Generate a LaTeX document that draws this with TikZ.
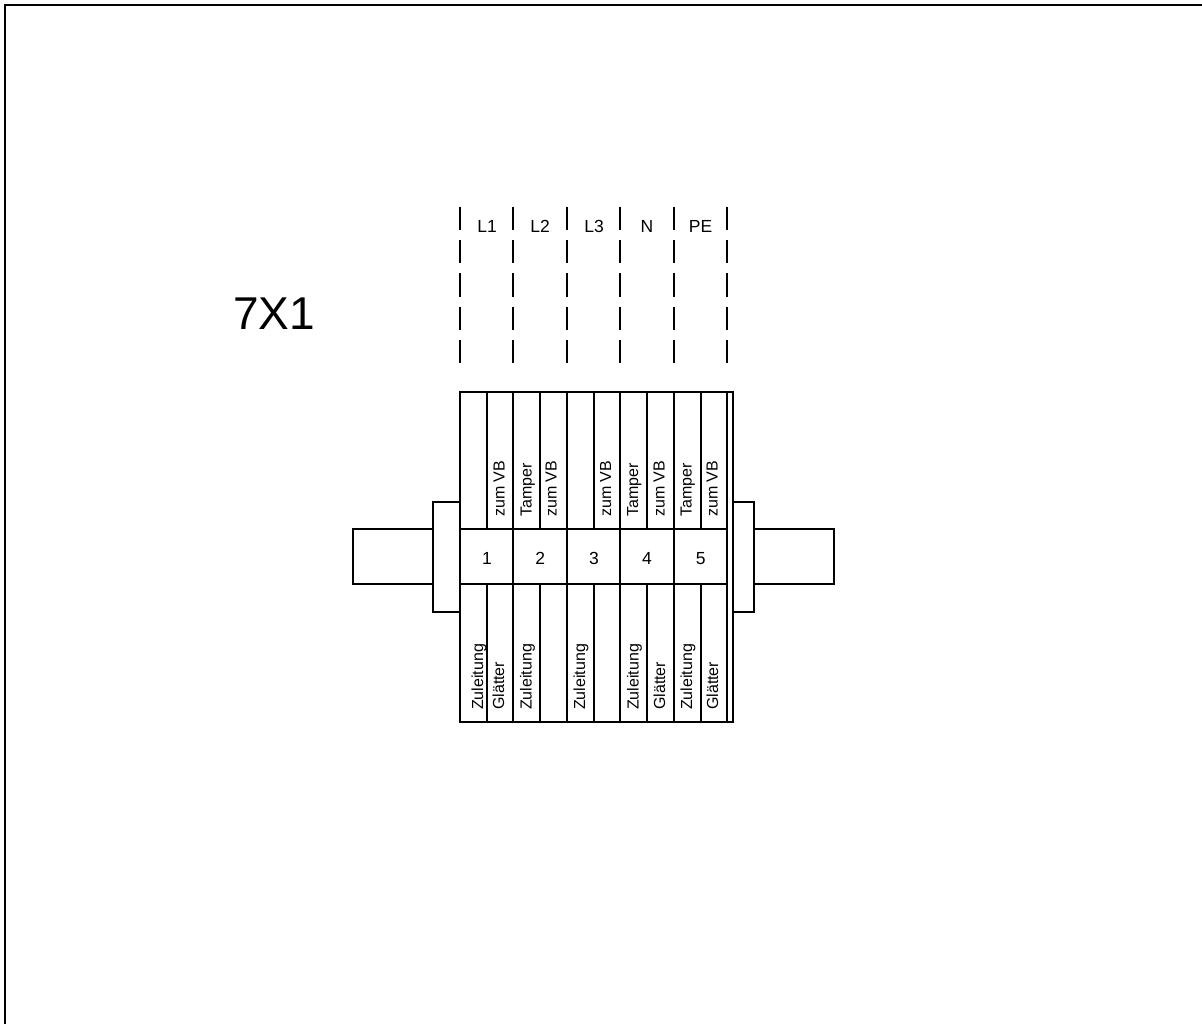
\documentclass[tikz,border=0pt]{standalone}
\usepackage{fontspec}
\setmainfont{Liberation Sans}
\tikzset{
  wire/.style={draw=black,line width=1.8pt,line cap=butt},
  dashwire/.style={wire,dash pattern=on 23.3pt off 10pt},
  lab/.style={inner sep=0pt,font=\fontsize{16}{18}\selectfont,text=black},
  vlab/.style={lab,rotate=90,anchor=base west},
  toplab/.style={lab,anchor=base,font=\fontsize{17.5}{20}\selectfont},
  title/.style={inner sep=0pt,anchor=base west,font=\fontsize{46}{50}\selectfont,text=black}
}
\begin{document}
\begin{tikzpicture}[x=1pt,y=-1pt]
\useasboundingbox[fill=white] (0,0) rectangle (1202,1024);
% frame
\draw[wire] (5,1024) -- (5,5) -- (1202,5);
% title
\node[title] (t) at (233,330) {7X1};
% dashed bus lines
\foreach \x in {460,513,567,620,674,727}
  \draw[dashwire] (\x,206.7) -- (\x,364);
% bus labels
\node[toplab] (bL1) at (487,233) {L1};
\node[toplab] (bL2) at (540,233) {L2};
\node[toplab] (bL3) at (594,233) {L3};
\node[toplab] (bN)  at (647,233) {N};
\node[toplab] (bPE) at (700.5,233) {PE};
% terminal strip
\draw[wire] (460,392) rectangle (733,722);
\draw[wire] (727,392) -- (727,722);
\foreach \x in {513,567,620,674}
  \draw[wire] (\x,392) -- (\x,722);
\foreach \x in {487,540,594,647,701}{
  \draw[wire] (\x,392) -- (\x,529);
  \draw[wire] (\x,584) -- (\x,722);
}
\draw[wire] (460,529) -- (727,529);
\draw[wire] (460,584) -- (727,584);
% left end clamp
\draw[wire] (460,502) -- (433,502) -- (433,612) -- (460,612);
\draw[wire] (433,529) -- (353,529) -- (353,584) -- (433,584);
% right end clamp
\draw[wire] (733,502) -- (754,502) -- (754,612) -- (733,612);
\draw[wire] (754,529) -- (834,529) -- (834,584) -- (754,584);
% numbers
\node[toplab] (n1) at (487,564.5) {1};
\node[toplab] (n2) at (540.3,564.5) {2};
\node[toplab] (n3) at (594,564.5) {3};
\node[toplab] (n4) at (647,564.5) {4};
\node[toplab] (n5) at (700.8,564.5) {5};
% upper labels
\node[vlab] (u1) at (504.5,517) {zum VB};
\node[vlab] (u2) at (531.5,517) {Tamper};
\node[vlab] (u3) at (556.5,517) {zum VB};
\node[vlab] (u4) at (611,517) {zum VB};
\node[vlab] (u5) at (638,517) {Tamper};
\node[vlab] (u6) at (664.5,517) {zum VB};
\node[vlab] (u7) at (691.5,517) {Tamper};
\node[vlab] (u8) at (717.5,517) {zum VB};
% lower labels
\node[vlab] (d1) at (483,710) {Zuleitung};
\node[vlab] (d2) at (504,710) {Glätter};
\node[vlab] (d3) at (531.5,710) {Zuleitung};
\node[vlab] (d4) at (585,710) {Zuleitung};
\node[vlab] (d5) at (638.5,710) {Zuleitung};
\node[vlab] (d6) at (665,710) {Glätter};
\node[vlab] (d7) at (692,710) {Zuleitung};
\node[vlab] (d8) at (718,710) {Glätter};
\end{tikzpicture}
\end{document}
